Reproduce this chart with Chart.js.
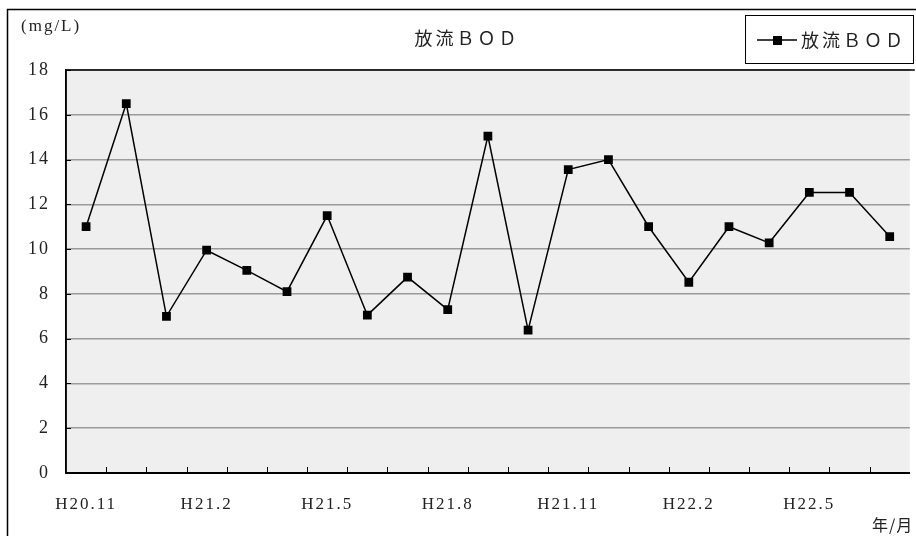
<!DOCTYPE html>
<html>
<head>
<meta charset="utf-8">
<script src="https://cdn.jsdelivr.net/npm/chart.js@4/dist/chart.umd.min.js"></script>
<style>
html,body{margin:0;padding:0;background:#fff;overflow:hidden;}
#wrap{width:916px;height:536px;position:relative;}
</style>
</head>
<body>
<div id="wrap"><canvas id="c"></canvas></div>
<script>
const months = ["H20.11","H20.12","H21.1","H21.2","H21.3","H21.4","H21.5","H21.6","H21.7","H21.8","H21.9","H21.10","H21.11","H21.12","H22.1","H22.2","H22.3","H22.4","H22.5","H22.6","H22.7"];
const bodValues = [11.0,16.5,7.0,9.95,9.05,8.1,11.5,7.05,8.75,7.3,15.05,6.38,13.55,14.0,11.0,8.52,11.0,10.28,12.53,12.53,10.56];
const seriesName = "放流ＢＯＤ";
const titleText = "放流ＢＯＤ";
const yUnit = "(mg/L)";
const xUnit = "年/月";
const yTicks = [0,2,4,6,8,10,12,14,16,18];

const LATIN = "'Liberation Serif', 'Noto Sans CJK JP', serif";

const deco = {
  id: 'deco',
  beforeDraw(chart) {
    const {ctx, chartArea: a} = chart;
    ctx.letterSpacing = '2px';
    ctx.save();
    ctx.fillStyle = '#efefef';
    ctx.fillRect(a.left, a.top, a.right - a.left, a.bottom - a.top);
    ctx.restore();
  },
  afterDraw(chart) {
    const {ctx, chartArea: a, scales} = chart;
    const x = scales.x, y = scales.y;
    ctx.save();
    ctx.strokeStyle = '#000';
    ctx.lineWidth = 1.5;
    ctx.beginPath();
    ctx.moveTo(a.left, a.bottom);
    ctx.lineTo(a.left, a.top);
    ctx.lineTo(a.right + 5, a.top);
    ctx.stroke();
    ctx.lineWidth = 1;
    ctx.beginPath();
    for (let i = 1; i < months.length; i++) {
      const px = Math.round((x.getPixelForValue(i - 1) + x.getPixelForValue(i)) / 2) + 0.5;
      ctx.moveTo(px, a.bottom);
      ctx.lineTo(px, a.bottom - 6);
    }
    yTicks.forEach(v => {
      const py = Math.round(y.getPixelForValue(v)) + 0.5;
      ctx.moveTo(a.left, py);
      ctx.lineTo(a.left + 5, py);
    });
    ctx.stroke();
    ctx.lineWidth = 1.5;
    ctx.strokeRect(7.5, 9.5, 2000, 2000);
    // title
    ctx.fillStyle = '#222';
    ctx.textBaseline = 'middle';
    ctx.letterSpacing = '3px';
    ctx.font = "18px 'Noto Sans CJK JP', " + LATIN;
    ctx.textAlign = 'left';
    const tw = ctx.measureText(titleText).width;
    ctx.fillText(titleText, 467 - tw / 2, 38);
    // y unit
    ctx.letterSpacing = '2px';
    ctx.font = "17px " + LATIN;
    ctx.fillText(yUnit, 21, 27);
    // x unit
    ctx.letterSpacing = '1px';
    ctx.font = "16px 'Noto Sans CJK JP', " + LATIN;
    ctx.fillText(xUnit, 872, 525);
    // legend
    ctx.letterSpacing = '0px';
    ctx.lineWidth = 1;
    ctx.strokeStyle = '#000';
    ctx.strokeRect(745.5, 15.5, 168, 48);
    ctx.beginPath();
    ctx.lineWidth = 1.5;
    ctx.moveTo(757, 40);
    ctx.lineTo(797, 40);
    ctx.stroke();
    ctx.fillStyle = '#000';
    ctx.fillRect(773, 36, 9, 9);
    ctx.fillStyle = '#222';
    ctx.letterSpacing = '3px';
    ctx.font = "18px 'Noto Sans CJK JP', " + LATIN;
    ctx.fillText(seriesName, 801, 40);
    ctx.restore();
  }
};

new Chart(document.getElementById('c'), {
  type: 'line',
  data: {
    labels: months,
    datasets: [{
      label: seriesName,
      data: bodValues,
      borderColor: '#000',
      backgroundColor: '#000',
      borderWidth: 1.5,
      tension: 0,
      pointStyle: 'rect',
      pointRadius: 6.2,
      pointHoverRadius: 6.2,
      pointBackgroundColor: '#000',
      pointBorderColor: '#000',
      pointBorderWidth: 0
    }]
  },
  options: {
    responsive: true,
    maintainAspectRatio: false,
    animation: false,
    events: [],
    layout: {padding: {left: 0, top: 70, right: 0, bottom: 0}},
    plugins: {legend: {display: false}, title: {display: false}, tooltip: {enabled: false}},
    scales: {
      x: {
        offset: true,
        grid: {display: true, offset: true, drawOnChartArea: false, drawTicks: false, color: '#000'},
        border: {display: true, color: '#000', width: 2},
        ticks: {
          autoSkip: false, maxRotation: 0, minRotation: 0, padding: 21,
          color: '#222',
          font: {family: LATIN, size: 17},
          callback: function(v, i) { return i % 3 === 0 ? months[i] : ''; }
        },
        afterFit(s) { s.height = 63; }
      },
      y: {
        min: 0, max: 18,
        grid: {color: '#9a9a9a', lineWidth: 1.5, drawTicks: false},
        border: {display: true, color: '#000', width: 1.5},
        ticks: {
          stepSize: 2, padding: 16, color: '#222',
          font: {family: LATIN, size: 18}
        },
        afterFit(s) { s.width = 66; }
      }
    }
  },
  plugins: [deco]
});
</script>
</body>
</html>
